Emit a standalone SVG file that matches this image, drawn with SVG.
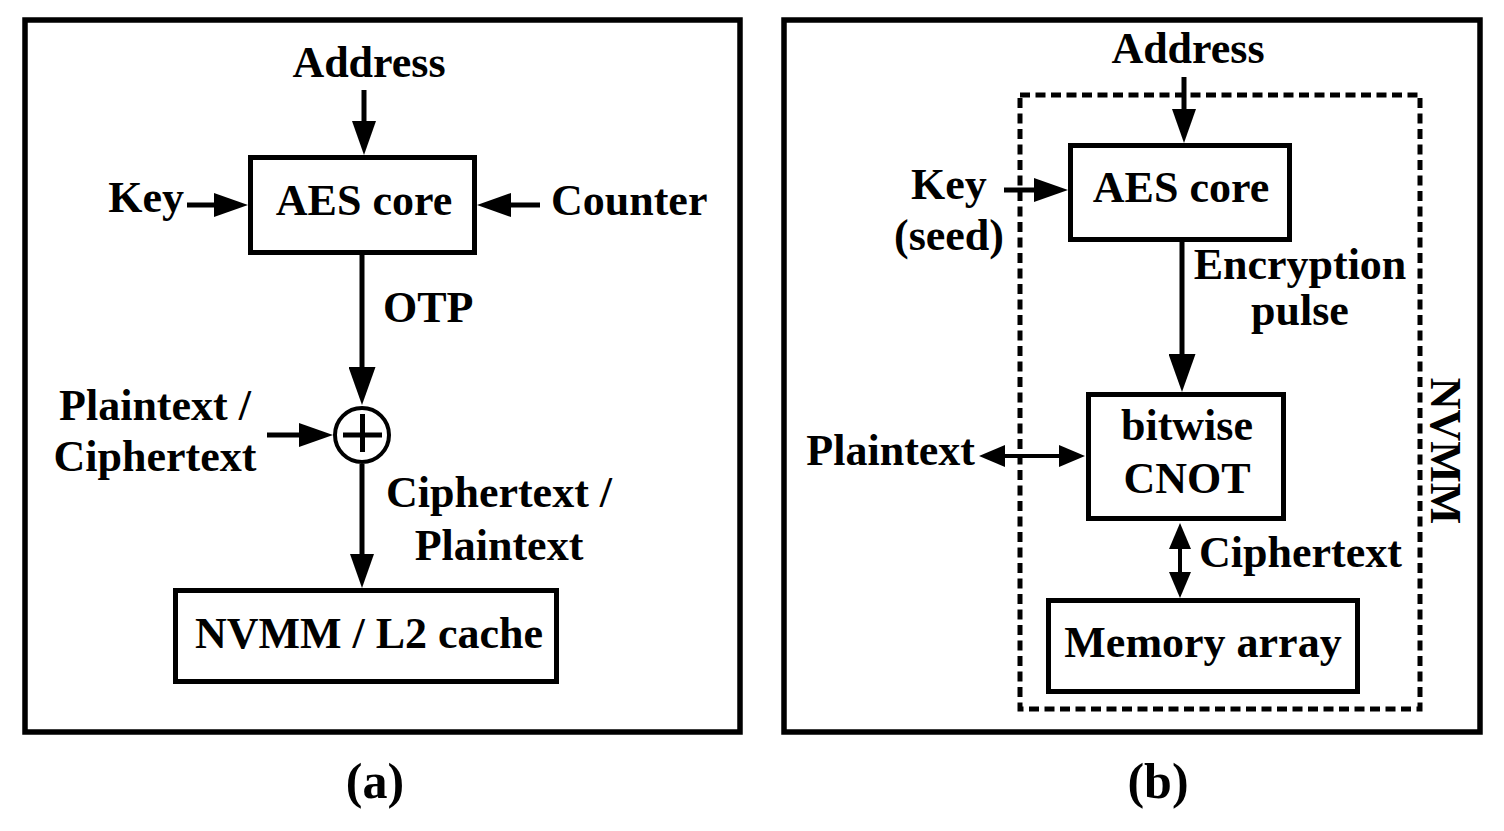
<svg xmlns="http://www.w3.org/2000/svg" width="1504" height="831" viewBox="0 0 1504 831">
<style>
text{font-family:"Liberation Serif","Times New Roman",serif;font-weight:bold;font-size:44px;fill:#000}
.c{text-anchor:middle}
.e{text-anchor:end}
.cap{font-size:50px}
.frame{fill:none;stroke:#000;stroke-width:5.5}
.box{fill:#fff;stroke:#000;stroke-width:5}
.dash{fill:none;stroke:#000;stroke-width:5;stroke-dasharray:10 5.5}
.ln{fill:none;stroke:#000;stroke-width:5}
.ln2{fill:none;stroke:#000;stroke-width:4}
</style>
<defs>
<marker id="arr" viewBox="0 0 34 24" markerWidth="34" markerHeight="24" refX="14" refY="12" orient="auto" markerUnits="userSpaceOnUse"><path d="M0,0 L34,12 L0,24 z" fill="#000"/></marker>
<marker id="arrL" viewBox="0 0 38 27" markerWidth="38" markerHeight="27" refX="18" refY="13.5" orient="auto" markerUnits="userSpaceOnUse"><path d="M0,0 L38,13.5 L0,27 z" fill="#000"/></marker>
<marker id="arrS" viewBox="0 0 26 22" markerWidth="26" markerHeight="22" refX="10" refY="11" orient="auto-start-reverse" markerUnits="userSpaceOnUse"><path d="M0,0 L26,11 L0,22 z" fill="#000"/></marker>
</defs>
<rect width="1504" height="831" fill="#fff"/>

<g id="panel-a">
<rect class="frame" x="25" y="20" width="715" height="712"/>
</g>
<g id="panel-b">
<rect class="frame" x="784" y="20" width="696" height="712"/>
</g>

<g id="nvmm-region">
<rect class="dash" x="1020" y="95" width="400" height="614"/>
<text transform="translate(1431,451) rotate(90)" class="c">NVMM</text>
</g>

<g id="connectors">
<line class="ln" x1="364" y1="90" x2="364" y2="135" marker-end="url(#arr)"/>
<line class="ln" x1="187" y1="205" x2="228" y2="205" marker-end="url(#arr)"/>
<line class="ln" x1="540" y1="205" x2="497" y2="205" marker-end="url(#arr)"/>
<line class="ln" x1="362" y1="255" x2="362" y2="385" marker-end="url(#arrL)"/>
<line class="ln" x1="267" y1="435" x2="313" y2="435" marker-end="url(#arr)"/>
<line class="ln" x1="362" y1="464" x2="362" y2="568" marker-end="url(#arr)"/>
<line class="ln" x1="1184" y1="77" x2="1184" y2="123" marker-end="url(#arr)"/>
<line class="ln" x1="1004" y1="190" x2="1048" y2="190" marker-end="url(#arr)"/>
<line class="ln" x1="1182" y1="242" x2="1182" y2="372" marker-end="url(#arrL)"/>
<line class="ln2" x1="995" y1="456" x2="1069" y2="456" marker-start="url(#arrS)" marker-end="url(#arrS)"/>
<line class="ln2" x1="1180" y1="539" x2="1180" y2="582" marker-start="url(#arrS)" marker-end="url(#arrS)"/>
</g>

<g id="labels">
<text class="c" x="369" y="77">Address</text>
<text class="e" x="184" y="212">Key</text>
<text x="551" y="215">Counter</text>
<text x="383" y="322">OTP</text>
<text class="c" x="155" y="420">Plaintext /</text>
<text class="c" x="155" y="471">Ciphertext</text>
<text class="c" x="499" y="507">Ciphertext /</text>
<text class="c" x="499" y="560">Plaintext</text>
<text class="c" x="1188" y="63">Address</text>
<text class="c" x="949" y="199">Key</text>
<text class="c" x="949" y="250">(seed)</text>
<text class="c" x="1300" y="279">Encryption</text>
<text class="c" x="1300" y="325">pulse</text>
<text class="e" x="975" y="465">Plaintext</text>
<text x="1199" y="567">Ciphertext</text>
<text class="c cap" x="375" y="798">(a)</text>
<text class="c cap" x="1158" y="798">(b)</text>
</g>

<g id="aes-a">
<rect class="box" x="250.5" y="157.5" width="224" height="95"/>
<text class="c" x="364" y="215">AES core</text>
</g>
<g id="xor">
<circle cx="362" cy="435" r="27" fill="#fff" stroke="#000" stroke-width="4"/>
<path d="M343,435 H382 M362.5,414 V452" stroke="#000" stroke-width="5" fill="none"/>
</g>
<g id="nvmm-l2">
<rect class="box" x="175.5" y="590.5" width="381" height="91"/>
<text class="c" x="369" y="648">NVMM / L2 cache</text>
</g>

<g id="aes-b">
<rect class="box" x="1070.5" y="145.5" width="219" height="94"/>
<text class="c" x="1181" y="202">AES core</text>
</g>
<g id="cnot">
<rect class="box" x="1088.5" y="394.5" width="195" height="124"/>
<text class="c" x="1187" y="440">bitwise</text>
<text class="c" x="1187" y="493">CNOT</text>
</g>
<g id="memory">
<rect class="box" x="1048.5" y="600.5" width="309" height="91"/>
<text class="c" x="1203" y="657">Memory array</text>
</g>
</svg>
